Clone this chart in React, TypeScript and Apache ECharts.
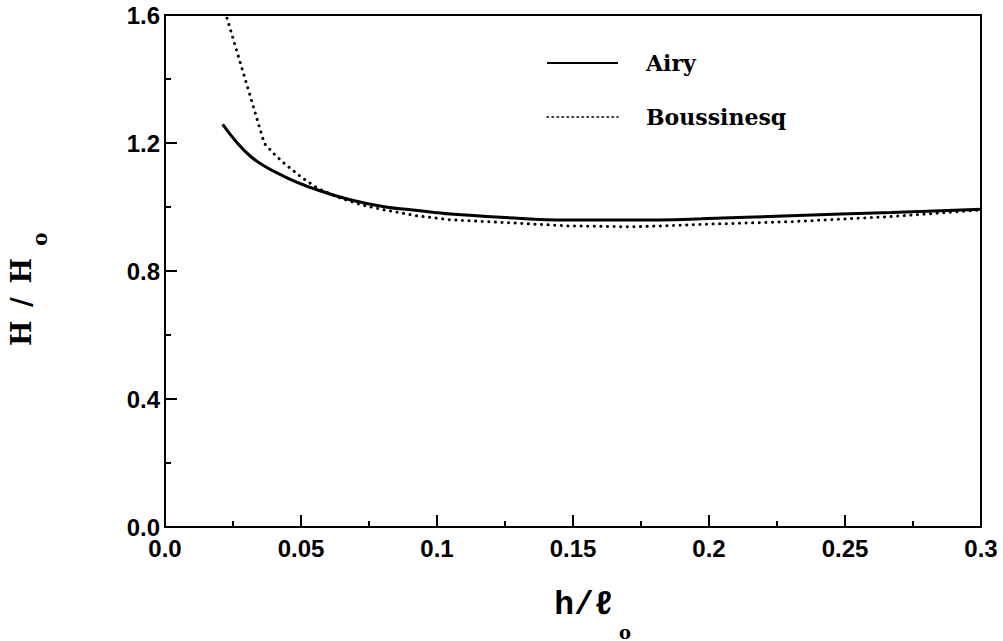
import React, { useEffect, useRef } from "react";
import * as echarts from "echarts";

const airyX = [0.0212, 0.0316, 0.0439, 0.0561, 0.0684, 0.0806, 0.0929, 0.105, 0.1235, 0.148, 0.1725, 0.197, 0.23, 0.267, 0.3];
const airyY = [1.258, 1.157, 1.095, 1.053, 1.022, 1.001, 0.989, 0.978, 0.968, 0.959, 0.959, 0.963, 0.973, 0.983, 0.993];

const bousX = [0.0228, 0.0365, 0.0402, 0.0439, 0.05, 0.0561, 0.0647, 0.0725, 0.0806, 0.0929, 0.105, 0.1235, 0.148, 0.1725, 0.195, 0.23, 0.267, 0.3];
const bousY = [1.59, 1.199, 1.165, 1.136, 1.094, 1.058, 1.027, 1.006, 0.991, 0.972, 0.96, 0.952, 0.941, 0.938, 0.945, 0.954, 0.97, 0.991];

const xTickLabels = ["0.0", "0.05", "0.1", "0.15", "0.2", "0.25", "0.3"];
const yTickLabels = ["0.0", "0.4", "0.8", "1.2", "1.6"];
const seriesNames = ["Airy", "Boussinesq"];

const tickFont = "Liberation Sans, Arial, sans-serif";
const typeFont = "DejaVu Serif, serif";
const titleFont = "'Liberation Mono', 'Courier New', monospace";

export default function App() {
  const ref = useRef<HTMLDivElement>(null);
  useEffect(() => {
    if (!ref.current) return;
    const chart = echarts.init(ref.current, undefined, { renderer: "svg" });
    const zip = (xs: number[], ys: number[]) => xs.map((x, i) => [x, ys[i]]);
    chart.setOption({
      animation: false,
      backgroundColor: "#ffffff",
      grid: {
        left: 165,
        right: 22,
        top: 15,
        bottom: 114,
        show: true,
        borderColor: "#000",
        borderWidth: 2,
        backgroundColor: "transparent",
      },
      legend: {
        orient: "vertical",
        left: 546,
        top: 52,
        padding: 0,
        itemWidth: 71,
        itemHeight: 20,
        itemGap: 32,
        textStyle: {
          fontFamily: typeFont,
          fontWeight: "bold",
          fontSize: 22,
          lineHeight: 20,
          color: "#000",
          padding: [0, 0, 0, 23],
        },
        data: [
          {
            name: seriesNames[0],
            itemStyle: { opacity: 0 },
            lineStyle: { width: 2, color: "#000", type: "solid" },
          },
          {
            name: seriesNames[1],
            itemStyle: { opacity: 0 },
            lineStyle: { width: 1.6, color: "#000", type: [1.5, 3.5] },
          },
        ],
      },
      xAxis: {
        type: "value",
        min: 0,
        max: 0.3,
        interval: 0.05,
        splitLine: { show: false },
        axisLine: { show: true, lineStyle: { color: "#000", width: 2 } },
        axisTick: { show: true, inside: true, length: 12, lineStyle: { color: "#000", width: 2 } },
        minorTick: { show: true, splitNumber: 2, length: 6, lineStyle: { color: "#000", width: 2 } },
        minorSplitLine: { show: false },
        axisLabel: {
          margin: 9,
          fontFamily: tickFont,
          fontWeight: "bold",
          fontSize: 24,
          color: "#000",
          formatter: (v: number) => xTickLabels[Math.round(v / 0.05)] ?? "",
        },
      },
      yAxis: {
        type: "value",
        min: 0,
        max: 1.6,
        interval: 0.4,
        splitLine: { show: false },
        axisLine: { show: true, lineStyle: { color: "#000", width: 2 } },
        axisTick: { show: true, inside: true, length: 12, lineStyle: { color: "#000", width: 2 } },
        minorTick: { show: true, splitNumber: 2, length: 6, lineStyle: { color: "#000", width: 2 } },
        minorSplitLine: { show: false },
        axisLabel: {
          margin: 5,
          fontFamily: tickFont,
          fontWeight: "bold",
          fontSize: 24,
          color: "#000",
          formatter: (v: number) => yTickLabels[Math.round(v / 0.4)] ?? "",
        },
      },
      series: [
        {
          name: seriesNames[0],
          type: "line",
          data: zip(airyX, airyY),
          symbol: "none",
          smooth: 0.4,
          lineStyle: { color: "#000", width: 3 },
          itemStyle: { color: "#000" },
        },
        {
          name: seriesNames[1],
          type: "line",
          data: zip(bousX, bousY),
          symbol: "none",
          smooth: false,
          lineStyle: { color: "#000", width: 3, type: [0.1, 6.5], cap: "round" },
          itemStyle: { color: "#000" },
        },
      ],
      graphic: [
        {
          type: "text",
          x: 21,
          y: 302,
          rotation: Math.PI / 2,
          style: {
            text: "H\u2002/\u2002H",
            fontFamily: typeFont,
            fontWeight: "bold",
            fontSize: 27,
            fill: "#000",
            align: "center",
            verticalAlign: "middle",
          },
        },
        {
          type: "text",
          x: 40,
          y: 239,
          rotation: Math.PI / 2,
          style: {
            text: "o",
            fontFamily: typeFont,
            fontWeight: "bold",
            fontSize: 20,
            fill: "#000",
            align: "center",
            verticalAlign: "middle",
          },
        },
        {
          type: "text",
          x: 584,
          y: 605,
          style: {
            text: "h/ℓ",
            fontFamily: titleFont,
            fontWeight: "bold",
            fontSize: 33,
            fill: "#000",
            align: "center",
            verticalAlign: "middle",
          },
        },
        {
          type: "text",
          x: 625,
          y: 632,
          style: {
            text: "o",
            fontFamily: typeFont,
            fontWeight: "bold",
            fontSize: 18,
            fill: "#000",
            align: "center",
            verticalAlign: "middle",
          },
        },
      ],
    });
    return () => chart.dispose();
  }, []);
  return (
    <div
      ref={ref}
      style={{ position: "fixed", left: 0, top: 0, width: 1003, height: 641, background: "#fff" }}
    />
  );
}
